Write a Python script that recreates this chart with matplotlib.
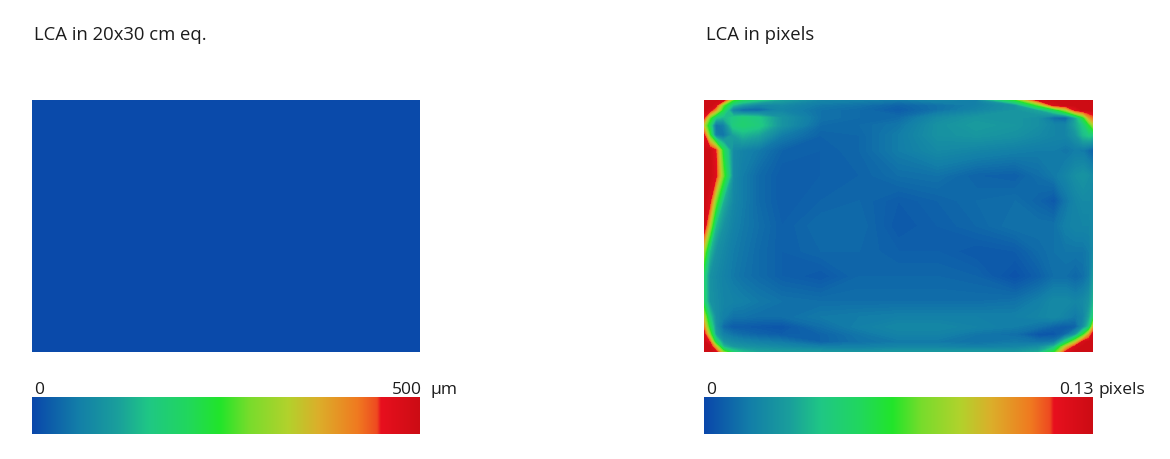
import numpy as np
import matplotlib
matplotlib.use('Agg')
import matplotlib.pyplot as plt
from matplotlib.colors import LinearSegmentedColormap

W, H = 1170, 459

titles = ['LCA in 20x30 cm eq.', 'LCA in pixels']
scale_min = ['0', '0']
scale_max = ['500', '0.13']
scale_unit = ['µm', 'pixels']

# left map is flat, micrometres
lca_um = np.array([
    [4, 4, 4],
    [4, 4, 4],
])

# sample places on the sensor, tighter near the edges where it changes fast
sensor_x = [0, .015, .03, .05, .075, .1, .14, .2, .3, .4, .5, .6, .7, .8, .86, .9, .93, .955, .975, .99, 1]
sensor_y = [0, .02, .04, .07, .1, .14, .2, .3, .4, .5, .6, .7, .8, .86, .9, .93, .96, .98, 1]

# right map, in 1/1000 pixel (scale top 130)
lca_px = np.array([
    [130, 130, 130, 125, 65, 50, 40, 28, 18, 16, 14, 18, 16, 60, 125, 130, 130, 130, 130, 130, 130],
    [130, 130, 125, 70, 36, 26, 18, 20, 14, 12, 8, 12, 16, 24, 70, 125, 130, 130, 130, 130, 130],
    [130, 125, 100, 55, 16, 8, 8, 18, 12, 10, 6, 12, 18, 24, 30, 50, 80, 120, 130, 130, 130],
    [118, 70, 40, 34, 40, 44, 40, 24, 12, 10, 10, 20, 25, 25, 22, 10, 8, 30, 60, 100, 110],
    [85, 50, 12, 16, 42, 46, 42, 24, 10, 10, 13, 23, 27, 25, 22, 18, 18, 30, 40, 60, 80],
    [120, 65, 16, 12, 28, 34, 30, 15, 8, 9, 15, 23, 25, 23, 20, 18, 18, 24, 36, 40, 38],
    [130, 130, 118, 55, 20, 17, 14, 8, 7, 9, 15, 20, 18, 16, 15, 15, 13, 15, 14, 10, 7],
    [130, 130, 122, 70, 20, 15, 10, 6, 7, 8, 11, 12, 8, 7, 11, 14, 18, 22, 24, 22, 20],
    [130, 122, 75, 33, 19, 15, 10, 6, 8, 9, 6, 8, 10, 11, 8, 5, 13, 18, 20, 20, 20],
    [130, 85, 36, 23, 17, 14, 11, 7, 10, 10, 5, 7, 9, 12, 12, 12, 16, 18, 18, 18, 20],
    [80, 36, 23, 19, 15, 13, 10, 7, 9, 9, 7, 7, 5, 6, 10, 12, 13, 13, 13, 15, 20],
    [46, 23, 20, 17, 14, 12, 10, 7, 5, 9, 9, 9, 8, 3, 7, 11, 11, 9, 11, 15, 26],
    [48, 24, 21, 18, 17, 16, 14, 12, 11, 11, 11, 11, 11, 12, 16, 20, 20, 18, 20, 24, 34],
    [85, 40, 22, 16, 12, 12, 11, 11, 14, 15, 16, 16, 16, 16, 18, 20, 17, 14, 18, 30, 44],
    [105, 55, 24, 10, 6, 6, 5, 4, 11, 16, 19, 19, 17, 15, 12, 8, 6, 8, 22, 40, 90],
    [125, 75, 28, 16, 12, 10, 8, 6, 8, 13, 17, 17, 13, 11, 4, 4, 10, 24, 60, 100, 125],
    [130, 115, 52, 24, 20, 18, 16, 14, 8, 12, 14, 14, 12, 14, 12, 14, 45, 85, 125, 130, 130],
    [130, 130, 95, 36, 26, 24, 22, 20, 16, 16, 18, 18, 16, 18, 22, 36, 90, 125, 130, 130, 130],
    [130, 130, 125, 75, 45, 36, 30, 28, 26, 24, 26, 26, 26, 26, 32, 60, 120, 130, 130, 130, 130],
])

# colour scale stops, position on the bar and colour
stop_pos = [0.0, 0.12, 0.22, 0.30, 0.40, 0.485, 0.56, 0.66, 0.74, 0.84, 0.89, 0.90, 1.0]
stop_col = ['#0a47ab', '#137fa8', '#1a9f9c', '#1fc785', '#21d75e', '#22e52a', '#78dc2c', '#b2d22c',
            '#dcae2a', '#f07a20', '#ee4a20', '#e8101e', '#cc0c14']
lca_cmap = LinearSegmentedColormap.from_list('lca', list(zip(stop_pos, stop_col)), N=512)

plt.rcParams['font.family'] = ['Open Sans', 'DejaVu Sans']


def axes_px(fig, x0, y0, x1, y1):
    return fig.add_axes([x0 / W, 1 - y1 / H, (x1 - x0) / W, (y1 - y0) / H])


def put_text(fig, x, y, s, size):
    fig.text(x / W, 1 - y / H, s, fontsize=size, color='#1c1c1c', ha='left', va='center')


fig = plt.figure(figsize=(W / 100, H / 100), dpi=100)

lefts = [(32, 420), (704, 1093)]
unit_x = [431, 1098]
max_x = [392, 1059]

for i in range(2):
    x0, x1 = lefts[i]

    ax = axes_px(fig, x0, 100, x1, 352)
    if i == 0:
        ax.imshow(lca_um, cmap=lca_cmap, vmin=0, vmax=500, aspect='auto')
    else:
        ax.contourf(sensor_x, sensor_y, lca_px, levels=np.linspace(0, 130, 131), cmap=lca_cmap,
                    vmin=0, vmax=130, extend='both')
        ax.set_xlim(0, 1)
        ax.set_ylim(1, 0)
    ax.axis('off')

    cax = axes_px(fig, x0, 397, x1, 434)
    cax.imshow(np.linspace(0, 1, 512)[None, :], cmap=lca_cmap, vmin=0, vmax=1, aspect='auto')
    cax.axis('off')

    put_text(fig, x0 + 2, 35, titles[i], 13.3)
    put_text(fig, x0 + 2, 390, scale_min[i], 12.5)
    put_text(fig, max_x[i], 390, scale_max[i], 12.5)
    put_text(fig, unit_x[i], 390, scale_unit[i], 12.5)

fig.savefig('out.png', dpi=100)
